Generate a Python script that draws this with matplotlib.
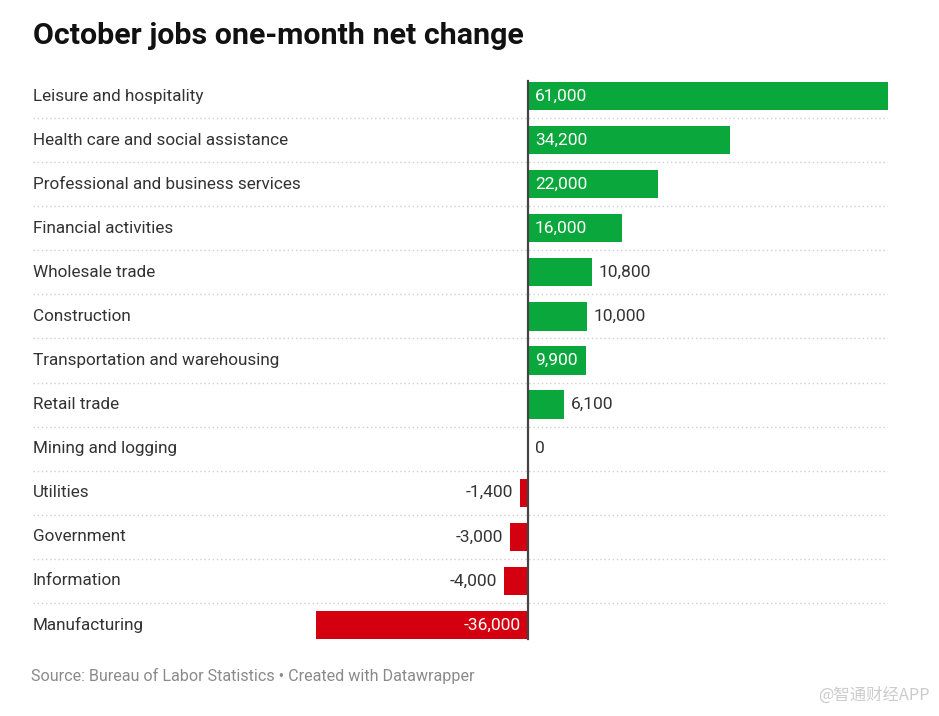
import matplotlib
matplotlib.use("Agg")
import matplotlib.pyplot as plt

categories = ["Leisure and hospitality", "Health care and social assistance",
              "Professional and business services", "Financial activities",
              "Wholesale trade", "Construction", "Transportation and warehousing",
              "Retail trade", "Mining and logging", "Utilities", "Government",
              "Information", "Manufacturing"]
values = [61000, 34200, 22000, 16000, 10800, 10000, 9900, 6100, 0, -1400, -3000, -4000, -36000]
label_inside = [True, True, True, True, False, False, True, False, False, False, False, False, True]

W, H = 939, 716
fig = plt.figure(figsize=(W / 100, H / 100), dpi=100)
plt.rcParams['font.family'] = ['Roboto', 'DejaVu Sans']

left_px, right_px = 33, 888
zero_px = 528
scale = 61000 / (888 - 528)  # units per px
xmin = (left_px - zero_px) * scale
xmax = (right_px - zero_px) * scale
top_px, row_h = 74, 44.08
n = len(categories)
ax = fig.add_axes([left_px / W, 1 - (top_px + n * row_h) / H,
                   (right_px - left_px) / W, n * row_h / H])
ax.set_xlim(xmin, xmax)
ax.set_ylim(n - 0.5, -0.5)
ax.axis('off')

green = "#0aa83c"
red = "#d5000f"
txt = "#333333"

for i in range(n - 1):
    ax.plot([xmin, xmax], [i + 0.5, i + 0.5], color="#cfcfcf", lw=1,
            linestyle=(0, (1, 2)), zorder=1)

colors = [green if v >= 0 else red for v in values]
ax.barh(range(n), values, height=0.64, color=colors, zorder=2)
ax.plot([0, 0], [-0.5 + 7 / row_h, n - 0.5 - 8 / row_h], color="#444444", lw=1.6, zorder=3)

pad = 7 * scale
for i, (cat, v, ins) in enumerate(zip(categories, values, label_inside)):
    ax.text(xmin, i, cat, ha='left', va='center', fontsize=12.3, color=txt)
    s = f"{v:,}"
    if v >= 0:
        if ins:
            ax.text(pad, i, s, ha='left', va='center', fontsize=12.5, color='white', zorder=4)
        else:
            ax.text(v + pad, i, s, ha='left', va='center', fontsize=12.5, color=txt, zorder=4)
    else:
        if ins:
            ax.text(-pad, i, s, ha='right', va='center', fontsize=12.5, color='white', zorder=4)
        else:
            ax.text(v - pad, i, s, ha='right', va='center', fontsize=12.5, color=txt, zorder=4)

fig.text(33 / W, 1 - 36 / H, "October jobs one-month net change", ha='left', va='center',
         fontsize=21.9, fontweight='bold', color='#111111')
fig.text(31 / W, 1 - 676 / H, "Source: Bureau of Labor Statistics • Created with Datawrapper",
         ha='left', va='center', fontsize=11.6, color='#8a8a8a')
fig.text(930 / W, 1 - 695 / H, "@智通财经APP", ha='right', va='center', fontsize=11.8,
         color='#cccccc', family=['Noto Sans CJK SC', 'DejaVu Sans'])

fig.savefig("out.png", dpi=100)
